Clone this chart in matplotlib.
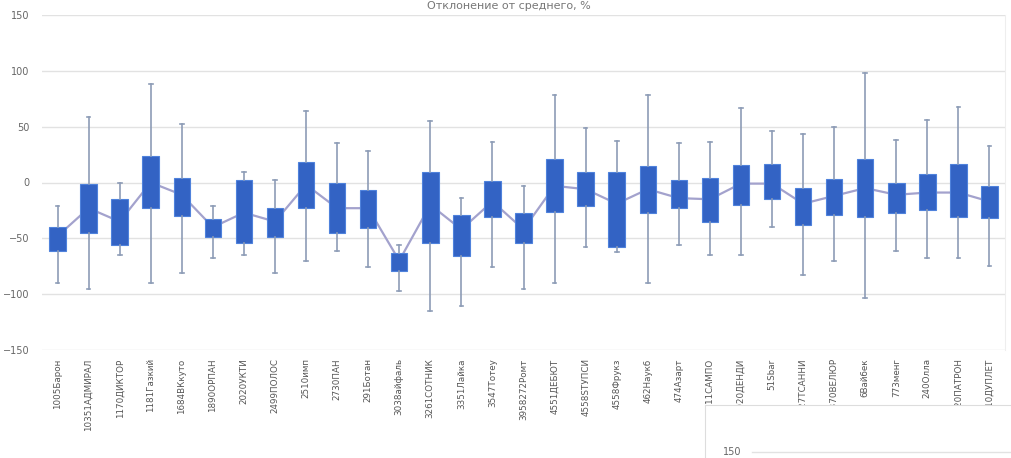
import numpy as np
import matplotlib
matplotlib.use('Agg')
import matplotlib.pyplot as plt

names = ['1005Барон', '10351АДМИРАЛ', '1170ДИКТОР', '1181Газкий', '1684ВКкуто', '1890ОРПАН',
         '2020УКТИ', '2499ПОЛОС', '2510имп', '2730ПАН', '291Ботан', '3038айфаль', '3261СОТНИК',
         '3351Лайка', '3547Тотеу', '3958272Ромт', '4551ДЕБЮТ', '4558STУПСИ', '4558Фрукз',
         '462Наукб', '474Азарт', '4811САМПО', '4920ДЕНДИ', '51Sbar', '5227ТСАННИ', '5370ВЕЛЮР',
         '6Вайбек', '773менг', '240Олла', '8120ПАТРОН', '8410ДУПЛЕТ']
wlo  = [-90, -95, -65, -90, -81, -68, -65, -81, -70, -61, -76, -97, -115, -111, -76, -95,
        -90, -58, -62, -90, -56, -65, -65, -40, -83, -70, -103, -61, -68, -68, -75]
q1   = [-61, -45, -56, -23, -30, -49, -54, -49, -23, -45, -41, -79, -54, -66, -31, -54,
        -26, -21, -58, -27, -23, -35, -20, -15, -38, -29, -31, -27, -25, -31, -32]
mean = [-48, -23, -35, 0, -11, -40, -27, -35, -2, -23, -23, -70, -20, -42, -17, -42,
        -3, -6, -19, -6, -14, -15, -1, -1, -19, -12, -5, -11, -9, -9, -17]
q3   = [-40, -1, -15, 24, 4, -33, 2, -23, 18, 0, -7, -63, 9, -29, 1, -27,
        21, 9, 9, 15, 2, 4, 16, 17, -5, 3, 21, 0, 8, 17, -3]
whi  = [-21, 59, 0, 88, 52, -21, 9, 2, 64, 35, 28, -56, 55, -14, 36, -3,
        78, 49, 37, 78, 35, 36, 67, 46, 43, 50, 98, 38, 56, 68, 33]

fig = plt.figure(figsize=(10.11, 4.58), dpi=100)
ax = fig.add_axes([42/1011, 1-350/458, 963/1011, 335/458])

stats = [dict(whislo=a, q1=b, med=c, q3=d, whishi=e) for a, b, c, d, e in zip(wlo, q1, mean, q3, whi)]
pos = np.arange(len(names))
ax.bxp(stats, positions=pos, widths=0.53, showfliers=False, patch_artist=True, capwidths=0.12,
       boxprops=dict(facecolor='#3363c4', edgecolor='#4f82dc', lw=0.8),
       whiskerprops=dict(color='#8d9cb6', lw=1.2),
       capprops=dict(color='#8d9cb6', lw=1.2),
       medianprops=dict(visible=False))
ax.plot(pos, mean, color='#a3a2cd', lw=1.6, zorder=1.5)

ax.set_xlim(-0.5, len(names) - 0.5)
ax.set_ylim(-150, 150)
ax.set_yticks(np.arange(-150, 151, 50))
ax.grid(axis='y', color='#e2e2e2', lw=1)
ax.set_axisbelow(True)
for s in ['top', 'left', 'bottom']:
    ax.spines[s].set_visible(False)
ax.spines['right'].set_color('#eeeeee')
ax.set_xticks(pos)
ax.set_xticklabels(names, rotation=90, fontsize=6.3, color='#555555')
ax.tick_params(axis='both', length=0, pad=6)
ax.tick_params(axis='y', labelsize=7, colors='#666666', pad=9)

fig.text(0.503, 1 - 1/458, 'Отклонение от среднего, %', ha='center', va='top', fontsize=8, color='#777777')

# fragment of the next chart overlapping in the bottom-right corner
ax2 = fig.add_axes([705/1011, 0, 306/1011, 53/458])
ax2.set_facecolor('white')
ax2.set_xticks([])
ax2.set_yticks([])
for s in ax2.spines.values():
    s.set_color('#dddddd')
ax2.spines['right'].set_visible(False)
ax2.spines['bottom'].set_visible(False)
ax2.axhline(0.12, xmin=0.155, xmax=1, color='#e2e2e2', lw=1)
ax2.text(0.09, 0.12, '150', ha='center', va='center', fontsize=7, color='#666666', transform=ax2.transAxes)

fig.savefig('out.png', dpi=100)
